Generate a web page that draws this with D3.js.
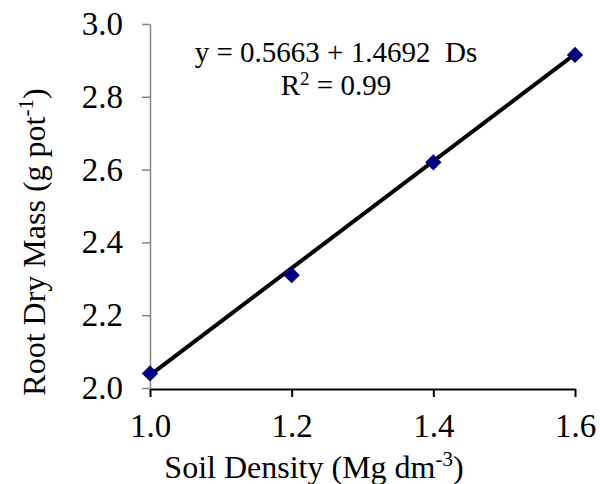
<!DOCTYPE html>
<html>
<head>
<meta charset="utf-8">
<script src="https://cdn.jsdelivr.net/npm/d3@7"></script>
<style>
  body { margin: 0; background: #fff; }
  text { font-family: "Liberation Serif", "Times New Roman", serif; fill: #000; }
</style>
</head>
<body>
<svg id="chart" width="600" height="484"></svg>
<script>
// data
var density = [1.0, 1.2, 1.4, 1.6];
var rootMass = [2.04, 2.31, 2.62, 2.915];
var fitA = 0.5663, fitB = 1.4692;
var xTicks = [1.0, 1.2, 1.4, 1.6];
var yTicks = [2.0, 2.2, 2.4, 2.6, 2.8, 3.0];

var svg = d3.select('#chart');

var xScale = d3.scaleLinear()
    .domain([1.0, 1.6])
    .range([150, 575]);

var yScale = d3.scaleLinear()
    .domain([2.0, 3.0])
    .range([388, 24]);

// y axis (grey)
var yAxis = svg.append('g')
    .attr('transform', 'translate(150,0)')
    .call(d3.axisLeft(yScale).tickValues(yTicks).tickSize(8).tickSizeOuter(0)
        .tickPadding(19).tickFormat(d3.format('.1f')));
yAxis.select('.domain').attr('stroke', '#868686').attr('stroke-width', 1.5);
yAxis.selectAll('.tick line').attr('stroke', '#868686').attr('stroke-width', 1.5);
yAxis.selectAll('.tick text').style('font-size', '33px').style('font-family', '"Liberation Serif", serif');

// x axis (black)
var xAxis = svg.append('g')
    .attr('transform', 'translate(0,389)')
    .call(d3.axisBottom(xScale).tickValues(xTicks).tickSize(8).tickSizeOuter(0)
        .tickPadding(17).tickFormat(d3.format('.1f')));
xAxis.select('.domain').attr('stroke', '#000').attr('stroke-width', 2);
xAxis.selectAll('.tick line').attr('stroke', '#000').attr('stroke-width', 2);
xAxis.selectAll('.tick text').style('font-size', '33px').style('font-family', '"Liberation Serif", serif');

// regression line
var fitLine = d3.line()
    .x(function(d) { return xScale(d); })
    .y(function(d) { return yScale(fitA + fitB * d); });

svg.append('path')
    .datum([density[0], density[density.length - 1]])
    .attr('d', fitLine)
    .attr('fill', 'none')
    .attr('stroke', '#000')
    .attr('stroke-width', 4);

// diamond markers
var diamond = d3.symbol().type(d3.symbolDiamond2).size(170);
svg.selectAll('.pt')
    .data(density)
    .enter()
    .append('path')
    .attr('class', 'pt')
    .attr('d', diamond)
    .attr('fill', '#000080')
    .attr('transform', function(d, i) {
        return 'translate(' + xScale(d) + ',' + yScale(rootMass[i]) + ')';
    });

// equation
svg.append('text')
    .attr('x', 336)
    .attr('y', 62)
    .attr('text-anchor', 'middle')
    .style('font-size', '29px')
    .style('white-space', 'pre')
    .text('y = ' + fitA + ' + ' + fitB + '  Ds');

var r2 = svg.append('text')
    .attr('x', 336)
    .attr('y', 95)
    .attr('text-anchor', 'middle')
    .style('font-size', '29px');
r2.append('tspan').text('R');
r2.append('tspan').attr('dy', -10).style('font-size', '19px').text('2');
r2.append('tspan').attr('dy', 10).text(' = 0.99');

// x title
var xt = svg.append('text')
    .attr('x', 314)
    .attr('y', 478)
    .attr('text-anchor', 'middle')
    .style('font-size', '32px');
xt.append('tspan').text('Soil Density (Mg dm');
xt.append('tspan').attr('dy', -12).style('font-size', '21px').text('-3');
xt.append('tspan').attr('dy', 12).text(')');

// y title
var yt = svg.append('text')
    .attr('transform', 'translate(45,242) rotate(-90)')
    .attr('text-anchor', 'middle')
    .style('font-size', '32px');
yt.append('tspan').text('Root Dry Mass (g pot');
yt.append('tspan').attr('dy', -12).style('font-size', '21px').text('-1');
yt.append('tspan').attr('dy', 12).text(')');
</script>
</body>
</html>
